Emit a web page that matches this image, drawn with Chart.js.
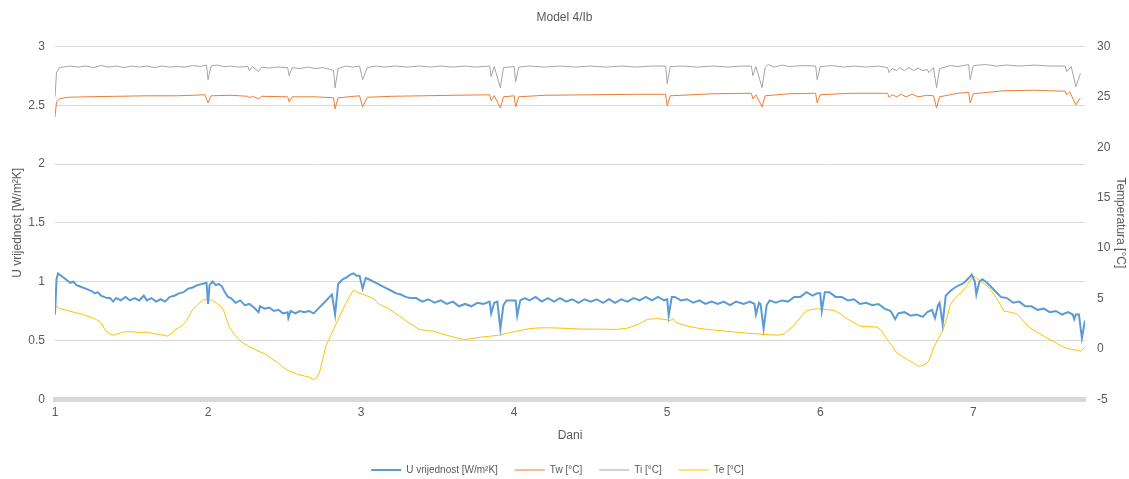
<!DOCTYPE html>
<html>
<head>
<meta charset="utf-8">
<script src="https://cdn.jsdelivr.net/npm/chart.js@4"></script>
<style>
  html, body { margin: 0; padding: 0; background: #fff; }
  #wrap { width: 1129px; height: 479px; }
</style>
</head>
<body>
<div id="wrap"><canvas id="chart"></canvas></div>
<script>
// [dan, vrijednost]
const uData = [
  [1.00,0.72],[1.01,1.02],[1.02,1.07],[1.04,1.05],[1.06,1.03],[1.08,1.01],[1.10,0.99],[1.12,1.00],
  [1.14,0.97],[1.16,0.96],[1.18,0.95],[1.20,0.94],[1.22,0.93],[1.24,0.92],[1.26,0.90],[1.28,0.91],
  [1.30,0.88],[1.32,0.87],[1.34,0.86],[1.36,0.86],[1.38,0.83],[1.40,0.86],[1.43,0.84],[1.46,0.87],
  [1.49,0.84],[1.52,0.86],[1.55,0.84],[1.58,0.88],[1.60,0.84],[1.63,0.86],[1.66,0.83],[1.69,0.85],
  [1.72,0.83],[1.75,0.87],[1.78,0.88],[1.81,0.90],[1.84,0.91],[1.87,0.94],[1.90,0.95],[1.93,0.97],
  [1.96,0.98],[1.99,0.99],[2.00,0.81],[2.01,0.97],[2.03,1.00],[2.05,0.97],[2.07,0.98],[2.09,0.96],
  [2.11,0.91],[2.13,0.87],[2.15,0.86],[2.18,0.82],[2.21,0.84],[2.24,0.80],[2.27,0.81],[2.30,0.78],
  [2.33,0.74],[2.34,0.79],[2.37,0.77],[2.40,0.78],[2.43,0.75],[2.46,0.76],[2.49,0.73],[2.52,0.74],
  [2.525,0.69],[2.54,0.75],[2.57,0.73],[2.60,0.75],[2.63,0.74],[2.66,0.75],[2.69,0.73],[2.72,0.77],
  [2.75,0.81],[2.78,0.85],[2.81,0.89],[2.83,0.72],[2.85,0.98],[2.88,1.02],[2.91,1.04],[2.93,1.06],
  [2.95,1.07],[2.97,1.05],[2.99,1.05],[3.01,0.94],[3.03,1.03],[3.05,1.02],[3.08,1.00],[3.11,0.98],
  [3.14,0.96],[3.17,0.94],[3.20,0.92],[3.23,0.90],[3.26,0.89],[3.29,0.87],[3.32,0.86],[3.36,0.86],
  [3.40,0.83],[3.44,0.85],[3.48,0.82],[3.52,0.84],[3.56,0.81],[3.60,0.83],[3.64,0.79],[3.68,0.81],
  [3.72,0.79],[3.76,0.82],[3.80,0.81],[3.84,0.83],[3.85,0.73],[3.87,0.82],[3.89,0.83],[3.91,0.60],
  [3.93,0.80],[3.95,0.84],[3.98,0.84],[4.01,0.84],[4.02,0.71],[4.04,0.84],[4.07,0.86],[4.10,0.84],
  [4.14,0.87],[4.18,0.83],[4.22,0.86],[4.26,0.83],[4.30,0.86],[4.34,0.83],[4.38,0.85],[4.42,0.82],
  [4.46,0.85],[4.50,0.83],[4.54,0.85],[4.58,0.82],[4.62,0.85],[4.66,0.82],[4.70,0.85],[4.74,0.83],
  [4.78,0.86],[4.82,0.84],[4.86,0.87],[4.90,0.84],[4.94,0.87],[4.98,0.84],[5.00,0.85],[5.01,0.71],
  [5.03,0.87],[5.05,0.87],[5.09,0.84],[5.13,0.85],[5.17,0.82],[5.21,0.84],[5.25,0.81],[5.29,0.83],
  [5.33,0.81],[5.37,0.83],[5.41,0.80],[5.45,0.83],[5.50,0.81],[5.54,0.83],[5.57,0.81],[5.58,0.72],
  [5.60,0.82],[5.61,0.81],[5.63,0.60],[5.65,0.80],[5.67,0.84],[5.71,0.82],[5.75,0.84],[5.79,0.83],
  [5.83,0.87],[5.87,0.87],[5.91,0.91],[5.95,0.88],[5.98,0.90],[6.00,0.90],[6.01,0.75],[6.03,0.91],
  [6.06,0.91],[6.10,0.87],[6.14,0.87],[6.18,0.84],[6.22,0.85],[6.26,0.81],[6.30,0.82],[6.34,0.80],
  [6.38,0.81],[6.42,0.77],[6.46,0.75],[6.49,0.68],[6.51,0.73],[6.55,0.74],[6.59,0.71],[6.63,0.72],
  [6.67,0.70],[6.70,0.74],[6.73,0.76],[6.75,0.69],[6.77,0.80],[6.78,0.82],[6.80,0.64],[6.82,0.88],
  [6.85,0.92],[6.88,0.95],[6.91,0.97],[6.94,0.99],[6.97,1.03],[6.99,1.06],[7.01,1.00],[7.02,0.89],
  [7.04,1.00],[7.06,1.02],[7.09,0.99],[7.12,0.95],[7.15,0.91],[7.18,0.87],[7.22,0.86],[7.26,0.82],
  [7.30,0.83],[7.34,0.79],[7.38,0.79],[7.42,0.76],[7.46,0.77],[7.50,0.74],[7.54,0.75],[7.58,0.72],
  [7.62,0.74],[7.65,0.72],[7.66,0.68],[7.67,0.72],[7.69,0.72],[7.71,0.52],[7.73,0.67]
];

const twData = [
  [1.00,23.0],[1.01,24.5],[1.03,24.8],[1.08,24.95],[1.20,25.0],[1.40,25.05],[1.60,25.1],[1.80,25.1],
  [1.98,25.2],[2.00,24.4],[2.02,25.1],[2.15,25.15],[2.26,25.05],[2.27,24.9],[2.29,25.05],[2.33,24.8],
  [2.35,25.05],[2.52,25.0],[2.53,24.5],[2.55,25.0],[2.70,25.0],[2.82,24.9],[2.83,23.8],[2.85,24.9],
  [2.99,25.1],[3.01,24.0],[3.04,24.95],[3.20,25.05],[3.40,25.1],[3.60,25.15],[3.84,25.2],[3.85,24.6],
  [3.87,25.1],[3.91,23.9],[3.93,25.0],[4.00,25.1],[4.01,24.0],[4.03,25.0],[4.20,25.15],[4.50,25.2],
  [4.80,25.25],[4.99,25.25],[5.00,24.1],[5.02,25.1],[5.30,25.3],[5.55,25.35],[5.56,24.8],[5.58,25.2],
  [5.62,24.0],[5.64,25.1],[5.80,25.3],[5.97,25.35],[5.98,24.4],[6.00,25.2],[6.20,25.35],[6.44,25.35],
  [6.45,24.95],[6.47,25.2],[6.50,25.0],[6.53,25.25],[6.56,25.0],[6.60,25.25],[6.64,25.0],[6.70,25.15],
  [6.74,25.1],[6.76,23.9],[6.78,25.0],[6.90,25.35],[6.97,25.45],[6.98,24.4],[7.00,25.3],[7.20,25.6],
  [7.40,25.65],[7.60,25.55],[7.61,25.2],[7.63,25.5],[7.67,24.2],[7.70,24.9]
];

const tiData = [
  [1.00,25.0],[1.01,27.4],[1.03,27.9],[1.10,28.05],[1.15,27.95],[1.20,28.05],[1.25,27.9],[1.30,28.1],
  [1.35,27.95],[1.40,28.05],[1.45,27.9],[1.50,28.05],[1.55,27.95],[1.60,28.05],[1.65,27.9],[1.70,28.05],
  [1.75,27.95],[1.80,28.0],[1.85,27.95],[1.90,28.1],[1.95,28.0],[1.99,28.15],[2.00,26.7],[2.02,28.05],
  [2.06,28.15],[2.10,28.0],[2.15,28.05],[2.20,27.95],[2.26,28.0],[2.27,27.6],[2.29,28.0],[2.33,27.5],
  [2.35,27.95],[2.40,27.85],[2.45,27.95],[2.52,27.9],[2.53,27.1],[2.55,27.9],[2.60,27.8],[2.65,27.95],
  [2.70,27.8],[2.75,27.9],[2.80,27.7],[2.82,27.6],[2.83,25.9],[2.85,27.8],[2.90,28.05],[2.95,27.95],
  [2.99,28.05],[3.01,26.7],[3.04,27.9],[3.10,28.05],[3.15,27.95],[3.22,28.05],[3.30,27.95],[3.38,28.05],
  [3.45,27.95],[3.52,28.05],[3.60,27.95],[3.68,28.05],[3.75,27.95],[3.84,28.05],[3.85,27.0],[3.87,28.0],
  [3.91,25.9],[3.93,27.9],[4.00,28.0],[4.01,26.5],[4.03,27.95],[4.10,28.05],[4.20,27.95],[4.30,28.05],
  [4.40,27.95],[4.50,28.05],[4.60,27.95],[4.70,28.05],[4.80,27.95],[4.90,28.05],[4.99,28.05],[5.00,26.3],
  [5.02,28.0],[5.10,28.05],[5.20,27.95],[5.30,28.05],[5.40,27.95],[5.48,28.05],[5.55,28.05],[5.56,27.1],
  [5.58,28.0],[5.62,25.9],[5.64,27.9],[5.66,28.2],[5.70,27.95],[5.75,28.15],[5.80,28.0],[5.88,28.1],
  [5.97,28.05],[5.98,26.7],[6.00,28.0],[6.08,28.1],[6.15,27.95],[6.22,28.05],[6.30,27.95],[6.38,28.05],
  [6.44,27.9],[6.45,27.4],[6.47,27.8],[6.50,27.6],[6.52,27.9],[6.55,27.6],[6.58,27.9],[6.61,27.6],
  [6.64,27.85],[6.67,27.6],[6.70,27.7],[6.71,27.4],[6.74,27.9],[6.76,25.9],[6.78,27.8],[6.85,28.1],
  [6.90,28.0],[6.97,28.2],[6.98,26.7],[7.00,28.1],[7.08,28.2],[7.15,28.05],[7.22,28.15],[7.30,28.05],
  [7.40,28.15],[7.50,28.05],[7.60,28.05],[7.61,27.5],[7.64,28.0],[7.67,26.0],[7.70,27.3]
];

const teData = [
  [1.00,4.34],[1.03,4.0],[1.08,3.8],[1.13,3.6],[1.185,3.4],[1.23,3.15],[1.27,2.9],[1.30,2.6],
  [1.33,1.8],[1.36,1.45],[1.38,1.35],[1.41,1.5],[1.45,1.68],[1.50,1.7],[1.55,1.62],[1.60,1.65],
  [1.65,1.5],[1.70,1.38],[1.73,1.25],[1.76,1.5],[1.79,1.92],[1.83,2.3],[1.86,2.8],[1.90,3.9],
  [1.94,4.5],[1.97,4.84],[2.00,4.9],[2.03,4.8],[2.06,4.5],[2.10,3.9],[2.12,3.0],[2.14,2.1],
  [2.18,1.3],[2.21,0.75],[2.26,0.3],[2.32,-0.17],[2.37,-0.5],[2.41,-0.91],[2.45,-1.3],[2.49,-1.84],
  [2.53,-2.2],[2.58,-2.5],[2.63,-2.7],[2.66,-2.8],[2.69,-3.07],[2.71,-2.9],[2.73,-2.24],[2.75,-1.0],
  [2.77,0.3],[2.81,1.58],[2.86,3.25],[2.90,4.5],[2.92,5.07],[2.95,5.81],[2.98,5.6],[3.04,5.24],
  [3.08,5.0],[3.12,4.41],[3.18,4.0],[3.25,3.25],[3.31,2.6],[3.38,1.92],[3.43,1.8],[3.47,1.75],
  [3.52,1.5],[3.56,1.35],[3.62,1.1],[3.67,0.92],[3.72,1.0],[3.78,1.15],[3.84,1.25],[3.90,1.35],
  [3.97,1.6],[4.04,1.82],[4.10,2.0],[4.17,2.08],[4.24,2.08],[4.30,2.05],[4.38,2.0],[4.45,1.95],
  [4.55,1.95],[4.67,1.92],[4.74,2.05],[4.78,2.25],[4.82,2.5],[4.87,2.92],[4.93,3.0],[4.98,2.92],
  [5.02,2.8],[5.04,3.0],[5.06,2.58],[5.13,2.25],[5.20,2.05],[5.26,1.92],[5.35,1.8],[5.43,1.68],
  [5.52,1.55],[5.59,1.48],[5.66,1.4],[5.72,1.35],[5.76,1.45],[5.78,1.68],[5.82,2.2],[5.85,2.75],
  [5.88,3.3],[5.91,3.8],[5.95,3.9],[5.98,3.97],[6.03,3.9],[6.09,3.81],[6.13,3.5],[6.17,3.02],
  [6.22,2.6],[6.26,2.25],[6.31,2.2],[6.37,2.15],[6.40,1.8],[6.43,1.08],[6.47,0.3],[6.50,-0.41],
  [6.54,-0.8],[6.57,-1.07],[6.61,-1.4],[6.64,-1.74],[6.67,-1.65],[6.70,-1.41],[6.72,-0.8],[6.74,0.08],
  [6.77,1.0],[6.80,1.75],[6.83,3.2],[6.85,4.41],[6.88,5.0],[6.92,5.57],[6.96,6.3],[7.00,7.23],
  [7.04,6.8],[7.09,6.24],[7.12,5.7],[7.15,5.07],[7.18,4.3],[7.20,3.75],[7.25,3.6],[7.29,3.41],
  [7.33,2.7],[7.37,2.08],[7.42,1.6],[7.48,1.08],[7.55,0.5],[7.61,0.03],[7.66,-0.1],[7.70,-0.24],
  [7.73,0.15]
];

const seriesNames = ['U vrijednost [W/m²K]', 'Tw [°C]', 'Ti [°C]', 'Te [°C]'];
const seriesColors = ['#5b9bd5', '#ed7d31', '#a5a5a5', '#ffc000'];
const dayTicks = [1, 2, 3, 4, 5, 6, 7];
const uTicks = [0, 0.5, 1, 1.5, 2, 2.5, 3];
const tempTicks = [-5, 0, 5, 10, 15, 20, 25, 30];

const toXY = arr => arr.map(p => ({ x: p[0], y: p[1] }));

Chart.defaults.font.family = "'Liberation Sans', Arial, sans-serif";
Chart.defaults.font.size = 12;
Chart.defaults.color = '#595959';

const lineDs = (i, data, axis, width) => ({
  label: seriesNames[i],
  data: toXY(data),
  yAxisID: axis,
  borderColor: seriesColors[i],
  backgroundColor: seriesColors[i],
  borderWidth: width,
  pointRadius: 0,
  tension: 0,
  fill: false
});

// legend in the reference sits a little left of the canvas centre
const legendShift = {
  id: 'legendShift',
  afterLayout(chart) {
    chart.legend.left -= 7;
    chart.legend.right -= 7;
  }
};

new Chart(document.getElementById('chart'), {
  type: 'line',
  data: {
    datasets: [
      lineDs(0, uData, 'y', 2),
      lineDs(1, twData, 'y1', 1),
      lineDs(2, tiData, 'y1', 1),
      lineDs(3, teData, 'y1', 1)
    ]
  },
  plugins: [legendShift],
  options: {
    responsive: true,
    maintainAspectRatio: false,
    animation: false,
    parsing: false,
    layout: { padding: { left: 0, right: 0, top: 0, bottom: -6 } },
    plugins: {
      title: {
        display: true,
        text: 'Model 4/Ib',
        font: { size: 12, weight: 'normal' },
        color: '#595959',
        padding: { top: 10, bottom: 22 }
      },
      legend: {
        position: 'bottom',
        labels: {
          usePointStyle: true,
          pointStyle: 'line',
          pointStyleWidth: 30,
          boxHeight: 11,
          padding: 17,
          font: { size: 10 }
        }
      },
      tooltip: { enabled: false }
    },
    scales: {
      x: {
        type: 'linear',
        min: 1,
        max: 7.73,
        afterBuildTicks: s => { s.ticks = dayTicks.map(v => ({ value: v })); },
        ticks: { padding: 6, callback: v => String(v) },
        grid: { display: false, drawTicks: false },
        border: { color: '#d9d9d9', width: 5 },
        title: { display: true, text: 'Dani', padding: { top: 3, bottom: 5 } }
      },
      y: {
        position: 'left',
        min: 0,
        max: 3,
        afterBuildTicks: s => { s.ticks = uTicks.map(v => ({ value: v })); },
        afterFit: s => { s.width = 55; },
        ticks: { padding: 10, callback: v => String(v) },
        grid: { color: '#d9d9d9', drawTicks: false },
        border: { display: false },
        title: { display: true, text: 'U vrijednost [W/m²K]', padding: { top: 10, bottom: 0 } }
      },
      y1: {
        position: 'right',
        min: -5,
        max: 30,
        afterBuildTicks: s => { s.ticks = tempTicks.map(v => ({ value: v })); },
        afterFit: s => { s.width = 44; },
        ticks: { padding: 12, callback: v => String(v) },
        grid: { display: false, drawTicks: false },
        border: { display: false },
        title: { display: true, text: 'Temperatura [°C]', padding: { top: 1, bottom: 0 } }
      }
    }
  }
});
</script>
</body>
</html>
